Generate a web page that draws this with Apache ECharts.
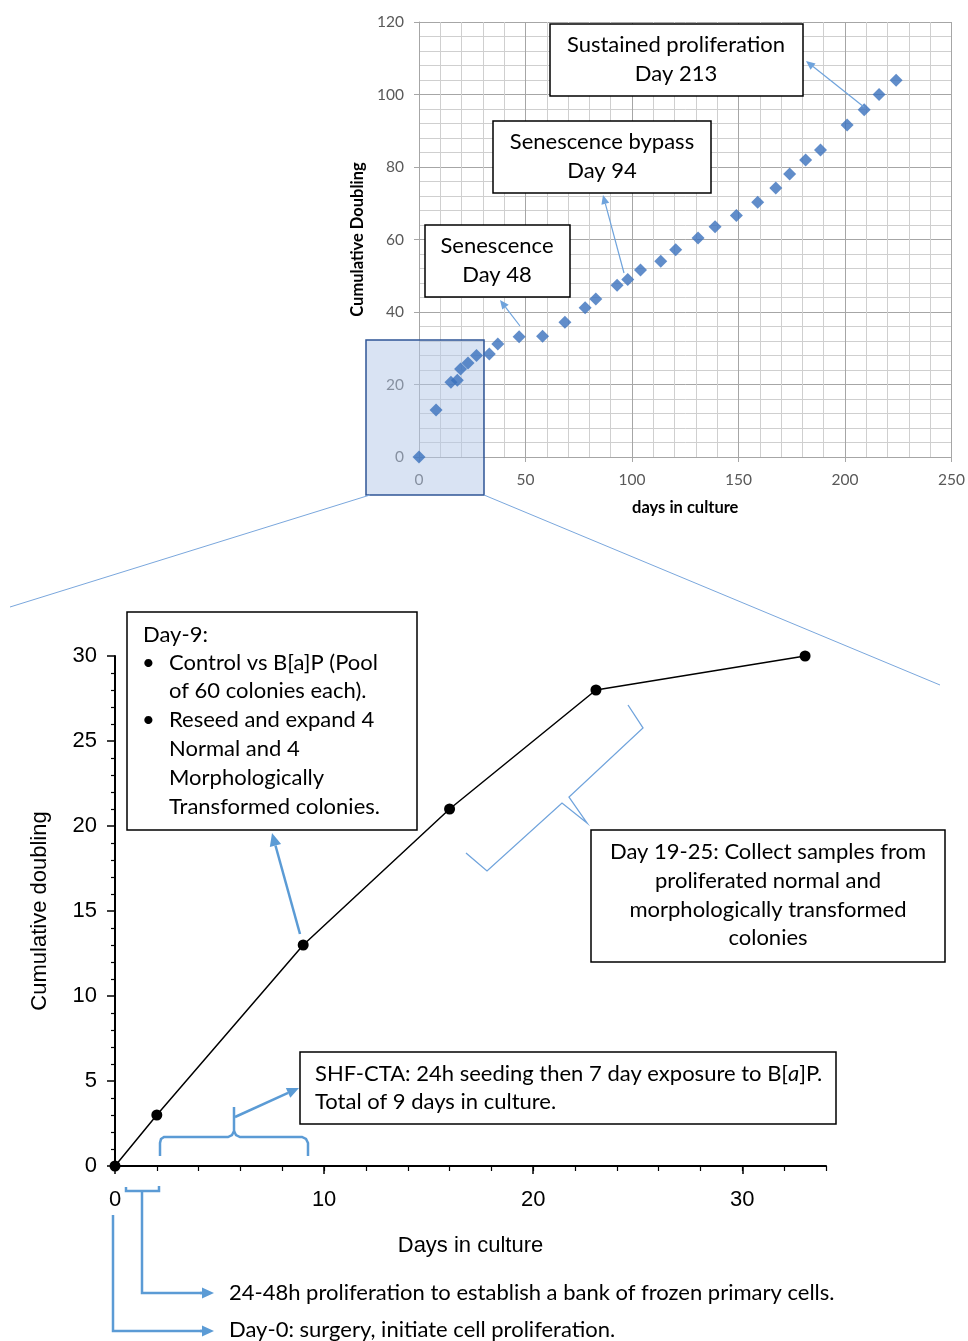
<!DOCTYPE html>
<html>
<head>
<meta charset="utf-8">
<script src="https://cdn.jsdelivr.net/npm/echarts@6/dist/echarts.min.js"></script>
<style>
html,body{margin:0;padding:0;background:#fff;}
#chart{width:968px;height:1341px;}
</style>
</head>
<body>
<div id="chart"></div>
<script>
// ---------- data ----------
// Upper chart: long-term culture (days vs cumulative doubling)
const longDays = [0, 8, 15, 18, 19.5, 23, 27, 33, 37, 47, 58, 68.5, 78, 83, 93, 98, 104, 113.5, 120.5, 131, 139, 149, 159, 167.5, 174, 181.5, 188.5, 201, 209, 216, 224];
const longDoublings = [0, 13, 20.6, 21.2, 24.3, 25.9, 28, 28.4, 31.2, 33.2, 33.3, 37.2, 41.2, 43.6, 47.4, 49, 51.6, 54, 57.2, 60.4, 63.5, 66.6, 70.3, 74.2, 78.1, 81.9, 84.7, 91.6, 95.8, 100, 103.9];
// Lower chart: first 33 days
const shortDays = [0, 2, 9, 16, 23, 33];
const shortDoublings = [0, 3, 13, 21, 28, 30];

const longXTicks = [0, 50, 100, 150, 200, 250];
const longYTicks = [0, 20, 40, 60, 80, 100, 120];
const shortXTicks = [0, 10, 20, 30];
const shortYTicks = [0, 5, 10, 15, 20, 25, 30];

const upperTitles = { x: 'days in culture', y: 'Cumulative Doubling' };
const lowerTitles = { x: 'Days in culture', y: 'Cumulative doubling' };

const boxSustained = ['Sustained proliferation', 'Day 213'];
const boxBypass = ['Senescence bypass', 'Day 94'];
const boxSenescence = ['Senescence', 'Day 48'];
const boxDay9Head = 'Day-9:';
const boxDay9Lines = ['Control vs B[a]P (Pool', 'of 60 colonies each).', 'Reseed and expand 4', 'Normal and 4', 'Morphologically', 'Transformed colonies.'];
const boxDay19 = ['Day 19-25: Collect samples from', 'proliferated normal and', 'morphologically transformed', 'colonies'];
const boxShf = ['SHF-CTA: 24h seeding then 7 day exposure to B[{i|a}]P.', 'Total of 9 days in culture.'];
const noteBank = '24-48h proliferation to establish a bank of frozen primary cells.';
const noteDay0 = 'Day-0: surgery, initiate cell proliferation.';

// ---------- helpers ----------
const CAL = 'Lato, "Open Sans", sans-serif';
const ARIAL = '"Liberation Sans", Arial, sans-serif';
const BLUE = '#5b9bd5';

function arrow(x1, y1, x2, y2, color, w, head) {
  const a = Math.atan2(y2 - y1, x2 - x1);
  const hx = x2 - head * Math.cos(a), hy = y2 - head * Math.sin(a);
  const px = -Math.sin(a) * head * 0.45, py = Math.cos(a) * head * 0.45;
  return [
    { type: 'line', z: 10, shape: { x1: x1, y1: y1, x2: hx, y2: hy }, style: { stroke: color, lineWidth: w } },
    { type: 'polygon', z: 10, shape: { points: [[x2, y2], [hx + px, hy + py], [hx - px, hy - py]] }, style: { fill: color } }
  ];
}
function poly(points, color, w) {
  return { type: 'polyline', z: 10, shape: { points: points }, style: { stroke: color, lineWidth: w, fill: null } };
}
function box(x, y, w, h) {
  return { type: 'rect', z: 10, shape: { x: x, y: y, width: w, height: h }, style: { fill: '#fff', stroke: '#000', lineWidth: 1.5 } };
}
function txt(s, x, y, align, size, extra) {
  const o = { type: 'text', z: 11, style: { text: s, x: x, y: y, fill: '#000', font: size + 'px ' + CAL, align: align, verticalAlign: 'middle' } };
  if (extra) Object.assign(o.style, extra);
  return o;
}

const FS = 22;
const graphics = [];
// highlight rectangle and zoom lines
graphics.push({ type: 'rect', z: 1, shape: { x: 366, y: 340, width: 118, height: 155 }, style: { fill: 'rgba(180,199,231,0.5)', stroke: '#2f5597', lineWidth: 1.5 } });
graphics.push({ type: 'line', z: 1, shape: { x1: 370, y1: 495, x2: 10, y2: 607 }, style: { stroke: '#7aa7dd', lineWidth: 1 } });
graphics.push({ type: 'line', z: 1, shape: { x1: 484, y1: 495, x2: 940, y2: 685 }, style: { stroke: '#7aa7dd', lineWidth: 1 } });

// upper boxes
graphics.push(box(550, 24, 253, 72), txt(boxSustained[0], 676, 45, 'center', FS), txt(boxSustained[1], 676, 74, 'center', FS));
graphics.push(box(493, 121, 218, 72), txt(boxBypass[0], 602, 142, 'center', FS), txt(boxBypass[1], 602, 171, 'center', FS));
graphics.push(box(425, 225, 145, 72), txt(boxSenescence[0], 497, 246, 'center', FS), txt(boxSenescence[1], 497, 275, 'center', FS));
graphics.push(...arrow(864, 107, 806, 61, '#6fa3dc', 1.2, 9));
graphics.push(...arrow(624, 273, 603, 195, '#6fa3dc', 1.2, 9));
graphics.push(...arrow(520, 326, 500, 300, '#6fa3dc', 1.2, 9));

// Day-9 box
graphics.push(box(127, 612, 290, 218), txt(boxDay9Head, 143, 635, 'left', FS));
const d9y = [663, 691, 720, 749, 778, 807];
boxDay9Lines.forEach(function (s, i) { graphics.push(txt(s, 169, d9y[i], 'left', FS)); });
graphics.push(txt('•', 142, 663, 'left', FS), txt('•', 142, 720, 'left', FS));
graphics.push(...arrow(300, 934, 272, 833, BLUE, 2.5, 13));

// Day 19-25 box and brace
graphics.push(box(591, 830, 354, 132));
const d19y = [852, 881, 910, 938];
boxDay19.forEach(function (s, i) { graphics.push(txt(s, 768, d19y[i], 'center', FS)); });
graphics.push(poly([[466, 853], [487, 871], [562, 803], [587, 823], [569, 797], [643, 728], [628, 705]], '#6fa3dc', 1.3));

// SHF box and brace
graphics.push(box(300, 1052, 536, 72));
graphics.push(txt(boxShf[0], 315, 1074, 'left', FS, { rich: { i: { fontStyle: 'italic', fontSize: FS, fontFamily: 'Lato' } } }));
graphics.push(txt(boxShf[1], 315, 1102, 'left', FS));
graphics.push(poly([[160, 1156], [160, 1143], [161, 1139], [164, 1137], [228, 1137], [232, 1135], [234, 1131], [234, 1107]], BLUE, 2.5));
graphics.push(poly([[234, 1131], [236, 1135], [240, 1137], [302, 1137], [306, 1139], [308, 1143], [308, 1156]], BLUE, 2.5));
graphics.push(...arrow(235, 1117, 299, 1088, BLUE, 2.5, 12));

// notes under the axis
graphics.push(poly([[126, 1187], [126, 1191], [159, 1191], [159, 1186]], BLUE, 2.5));
graphics.push(poly([[142, 1191], [142, 1293], [204, 1293]], BLUE, 2.5));
graphics.push(...arrow(200, 1293, 214, 1293, BLUE, 2.5, 12));
graphics.push(poly([[113, 1215], [113, 1331], [204, 1331]], BLUE, 2.5));
graphics.push(...arrow(200, 1331, 214, 1331, BLUE, 2.5, 12));
graphics.push(txt(noteBank, 229, 1293, 'left', FS), txt(noteDay0, 229, 1330, 'left', FS));

// ---------- chart ----------
const chart = echarts.init(document.getElementById('chart'), null, { renderer: 'canvas' });
const upperLabel = { fontFamily: CAL, fontSize: 15.5, color: '#595959' };
const lowerLabel = { fontFamily: ARIAL, fontSize: 22, color: '#000' };

chart.setOption({
  animation: false,
  backgroundColor: '#fff',
  grid: [
    { left: 419, top: 22, width: 535, height: 435, containLabel: false },
    { left: 115, top: 656, width: 711, height: 510, containLabel: false }
  ],
  xAxis: [
    {
      gridIndex: 0, type: 'value', position: 'bottom', min: longXTicks[0], max: longXTicks[longXTicks.length - 1], interval: longXTicks[1] - longXTicks[0],
      name: upperTitles.x, nameLocation: 'middle', nameGap: 42,
      nameTextStyle: { fontFamily: CAL, fontSize: 16.5, fontWeight: 'bold', color: '#000' },
      axisLine: { show: true, lineStyle: { color: '#a6a6a6', width: 1 } },
      axisTick: { show: true, length: 5, lineStyle: { color: '#a6a6a6' } },
      axisLabel: Object.assign({ margin: 15 }, upperLabel),
      splitLine: { show: true, lineStyle: { color: '#a6a6a6', width: 1 } },
      minorTick: { show: false, splitNumber: 5 },
      minorSplitLine: { show: true, lineStyle: { color: '#cfcfcf', width: 1 } }
    },
    {
      gridIndex: 1, type: 'value', position: 'bottom', min: 0, max: 34, interval: shortXTicks[1] - shortXTicks[0],
      name: lowerTitles.x, nameLocation: 'middle', nameGap: 69,
      nameTextStyle: { fontFamily: ARIAL, fontSize: 22, color: '#000' },
      axisLine: { show: true, lineStyle: { color: '#000', width: 2 } },
      axisTick: { show: true, length: 8, lineStyle: { color: '#000', width: 1.5 } },
      axisLabel: Object.assign({ margin: 23, showMaxLabel: false }, lowerLabel),
      splitLine: { show: false }
    },
    {
      gridIndex: 1, type: 'value', position: 'bottom', offset: 0, min: 0, max: 34, interval: 2,
      axisLine: { show: false },
      axisTick: { show: true, length: 5, lineStyle: { color: '#000', width: 1.2 } },
      axisLabel: { show: false },
      splitLine: { show: false }
    }
  ],
  yAxis: [
    {
      gridIndex: 0, type: 'value', min: longYTicks[0], max: longYTicks[longYTicks.length - 1], interval: longYTicks[1] - longYTicks[0],
      name: upperTitles.y, nameLocation: 'middle', nameGap: 50,
      nameTextStyle: { fontFamily: CAL, fontSize: 16.5, fontWeight: 'bold', color: '#000' },
      axisLine: { show: true, lineStyle: { color: '#a6a6a6', width: 1 } },
      axisTick: { show: true, length: 5, lineStyle: { color: '#a6a6a6' } },
      axisLabel: Object.assign({ margin: 15 }, upperLabel),
      splitLine: { show: true, lineStyle: { color: '#a6a6a6', width: 1 } },
      minorTick: { show: false, splitNumber: 5 },
      minorSplitLine: { show: true, lineStyle: { color: '#cfcfcf', width: 1 } }
    },
    {
      gridIndex: 1, type: 'value', min: shortYTicks[0], max: shortYTicks[shortYTicks.length - 1], interval: shortYTicks[1] - shortYTicks[0],
      name: lowerTitles.y, nameLocation: 'middle', nameGap: 64,
      nameTextStyle: { fontFamily: ARIAL, fontSize: 22, color: '#000' },
      axisLine: { show: true, lineStyle: { color: '#000', width: 2 } },
      axisTick: { show: true, length: 8, lineStyle: { color: '#000', width: 1.5 } },
      minorTick: { show: true, splitNumber: 5, length: 4, lineStyle: { color: '#000', width: 1.2 } },
      axisLabel: Object.assign({ margin: 18 }, lowerLabel),
      splitLine: { show: false }
    }
  ],
  series: [
    {
      type: 'scatter', xAxisIndex: 0, yAxisIndex: 0, z: 3,
      symbol: 'diamond', symbolSize: 13,
      itemStyle: { color: '#3a70bd' },
      data: longDays.map(function (d, i) { return [d, longDoublings[i]]; })
    },
    {
      type: 'line', xAxisIndex: 1, yAxisIndex: 1, z: 3,
      symbol: 'circle', symbolSize: 11,
      lineStyle: { color: '#000', width: 1.5 },
      itemStyle: { color: '#000' },
      data: shortDays.map(function (d, i) { return [d, shortDoublings[i]]; })
    }
  ],
  graphic: { elements: graphics }
});
</script>
</body>
</html>
